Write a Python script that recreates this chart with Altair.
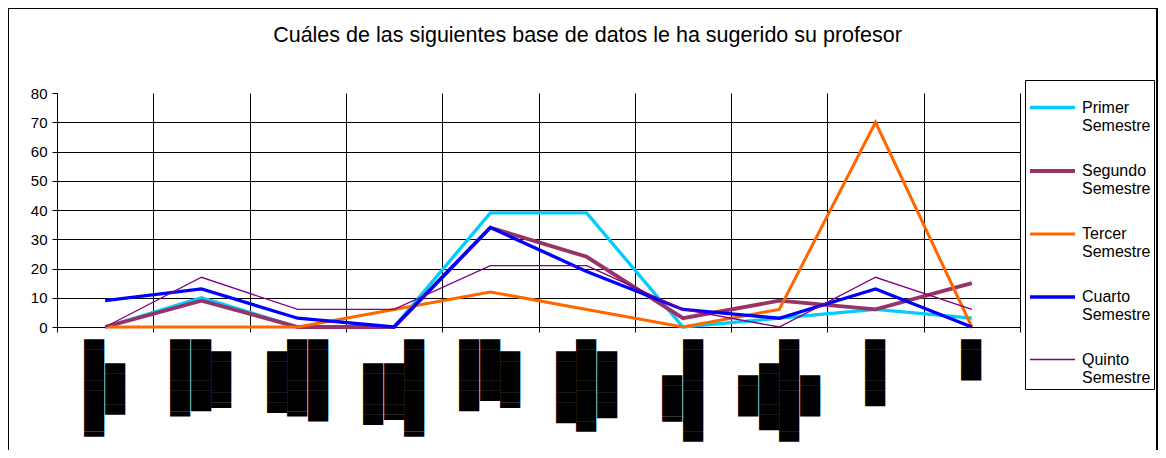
import altair as alt
import pandas as pd

# Category labels: in the picture they appear as solid black blocks (rotated text).
# Each inner list holds the length of every label line, counted in block characters.
label_blocks = [
    [9.5, 5],
    [7.5, 7, 5.5],
    [6, 7.5, 8],
    [6, 5.5, 9.5],
    [7, 6, 5.5],
    [7, 9, 6.5],
    [4.5, 10],
    [4, 6.5, 10, 4],
    [6.5],
    [4],
]

series_names = ["Primer Semestre", "Segundo Semestre", "Tercer Semestre",
                "Cuarto Semestre", "Quinto Semestre"]
primer = [0, 10, 0, 0, 39, 39, 0, 3, 6, 3]
segundo = [0, 9, 0, 0, 34, 24, 3, 9, 6, 15]
tercer = [0, 0, 0, 6, 12, 6, 0, 6, 70, 0]
cuarto = [9, 13, 3, 0, 34, 19, 6, 3, 13, 0]
quinto = [0, 17, 6, 6, 21, 21, 6, 0, 17, 6]

colors = ["#00CCFF", "#993366", "#FF6600", "#0000FF", "#800080"]
widths = [3.3, 3.8, 3.0, 3.3, 1.3]

FULL = "\u2588"
HALF = "\u2590"
BLANK = "\u2800"


def make_label(lines):
    halves = [int(round(v * 2)) for v in lines]
    mx = max(halves)
    out = []
    for h in halves:
        s = (HALF if h % 2 else "") + FULL * (h // 2)
        pad = int(round((mx - h) / 4.0))
        out.append(s + BLANK * pad)
    return "|".join(out)


categories = [make_label(l) for l in label_blocks]

rows = []
for name, vals in zip(series_names, [primer, segundo, tercer, cuarto, quinto]):
    for c, v in zip(categories, vals):
        rows.append({"cat": c, "serie": name, "valor": v})
df = pd.DataFrame(rows)

legend_def = alt.Legend(
    title=None, orient="none", legendX=968, legendY=-13, direction="vertical",
    symbolType="stroke", symbolSize=2025,
    labelExpr="split(datum.label, ' ')", labelFont="Liberation Sans",
    labelFontSize=16, labelColor="black", labelOffset=5, labelLimit=200,
    padding=3, strokeColor="black", fillColor="white", cornerRadius=0,
    rowPadding=12.5,
)

x_enc = alt.X(
    "cat:N", sort=categories,
    scale=alt.Scale(type="band", paddingInner=0, paddingOuter=0),
    axis=alt.Axis(
        title=None, labelExpr="split(datum.label, '|')", labelAngle=270,
        labelAlign="right", labelBaseline="middle", labelFont="DejaVu Sans Mono",
        labelFontSize=17, labelLineHeight=20.5, labelColor="black",
        labelPadding=7, labelOverlap=False, labelLimit=400, labelFlush=False,
        labelOffset={"expr": "-(length(split(datum.label, '|')) - 1) * 10.25"},
        tickBand="extent", tickSize=5, tickColor="black", domainColor="black",
        grid=True, gridColor="black", gridWidth=1,
    ),
)

y_enc = alt.Y(
    "valor:Q", scale=alt.Scale(domain=[0, 80], nice=False),
    axis=alt.Axis(
        title=None, values=list(range(0, 81, 10)), tickSize=5,
        labelFont="Liberation Sans", labelFontSize=15, labelColor="black",
        labelPadding=5, domainColor="black", tickColor="black",
        gridColor="black", gridWidth=1,
        gridOpacity={"condition": {"test": "datum.value === 80", "value": 0}, "value": 1},
    ),
)

lines = alt.Chart(df).mark_line().encode(
    x=x_enc,
    y=y_enc,
    color=alt.Color("serie:N", scale=alt.Scale(domain=series_names, range=colors),
                    legend=legend_def),
    strokeWidth=alt.StrokeWidth("serie:N",
                                scale=alt.Scale(type="ordinal", domain=series_names,
                                                range=widths),
                                legend=legend_def),
)

frame = alt.Chart(pd.DataFrame({"marco": [0]})).mark_rect(
    fillOpacity=0, stroke="black", strokeWidth=2
).encode(
    x=alt.value(-49), x2=alt.value(1100), y=alt.value(-85), y2=alt.value(380)
)

chart = alt.layer(frame, lines).properties(
    width=963,
    height=234,
    padding={"left": 49, "top": 85, "right": 138, "bottom": 123},
    autosize=alt.AutoSizeParams(type="none"),
    title=alt.TitleParams(
        text="Cuáles de las siguientes base de datos le ha sugerido su profesor",
        font="Liberation Sans", fontSize=21.5, fontWeight="normal", color="black",
        anchor="middle", dx=49, offset=0, dy=39,
    ),
).configure_view(strokeWidth=0)

chart.save("out.html", embed_options={"renderer": "svg", "actions": False})
